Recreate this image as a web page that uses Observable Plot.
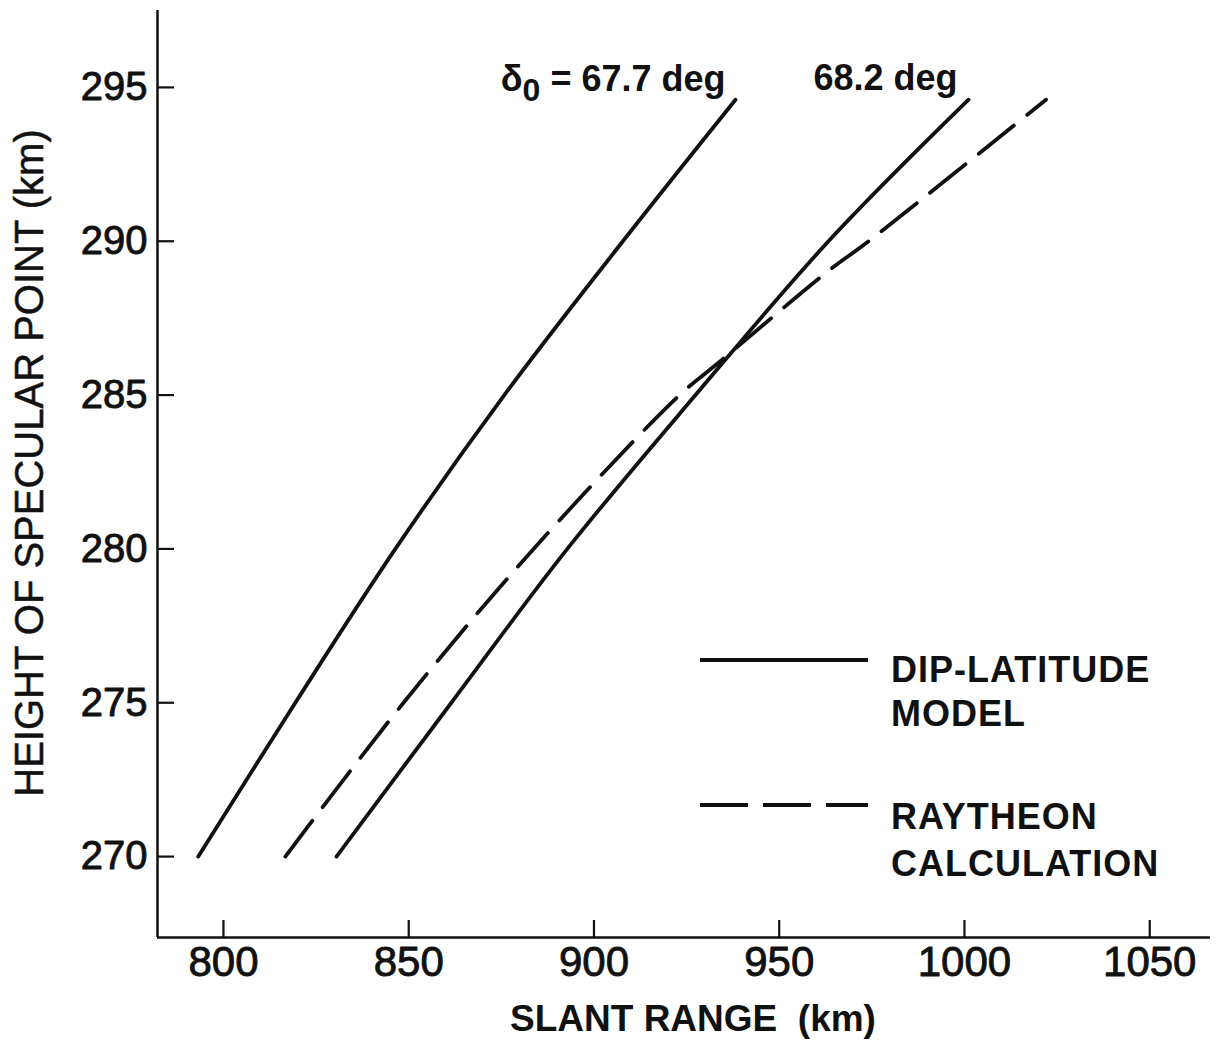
<!DOCTYPE html>
<html><head><meta charset="utf-8">
<script src="https://cdn.jsdelivr.net/npm/d3@7"></script>
<script src="https://cdn.jsdelivr.net/npm/@observablehq/plot@0.6"></script>
<style>
html,body{margin:0;padding:0;background:#fff;}
#chart{position:relative;width:1218px;height:1041px;}
#legend{position:absolute;left:0;top:0;pointer-events:none;}
</style></head><body><div id="chart"></div>
<script>
// Tick values
const xTicks = [800, 850, 900, 950, 1000, 1050];
const yTicks = [270, 275, 280, 285, 290, 295];

// Dip-latitude model, delta0 = 67.7 deg (solid)
const heightsA = [270, 275, 280, 285, 290, 294.6];
const rangeA   = [793.2, 819.4, 846.4, 875.8, 907.8, 938.2];

// Dip-latitude model, delta0 = 68.2 deg (solid)
const heightsC = [270, 275, 280, 285, 290, 294.6];
const rangeC   = [830.5, 861.5, 892.8, 927.4, 963.3, 1001.1];

// Raytheon calculation (dashed)
const heightsB = [270, 275, 280, 285, 286, 289, 290, 294.6];
const rangeB   = [816.7, 848.6, 883.7, 923.1, 933.1, 962.9, 974.1, 1022];

const labelA = ["δ", "0", " = 67.7 deg"];
const labelC = "68.2 deg";
const legendLabels = [["DIP-LATITUDE", "MODEL"], ["RAYTHEON", "CALCULATION"]];
const xTitle = "SLANT RANGE  (km)";
const yTitle = "HEIGHT OF SPECULAR POINT (km)";

const xDomain = [782.2, 1066.4];
const yDomain = [267.37, 297.5];

const rows = (hs, rs) => hs.map((h, i) => ({height: h, range: rs[i]}));
const dataA = rows(heightsA, rangeA);
const dataC = rows(heightsC, rangeC);
const dataB = rows(heightsB, rangeB);

const font = "'Liberation Sans', Arial, Helvetica, sans-serif";
const ink = "#111";

const chart = Plot.plot({
  width: 1218, height: 1041,
  marginLeft: 157, marginRight: 8, marginTop: 10, marginBottom: 104,
  x: {domain: xDomain},
  y: {domain: yDomain},
  style: {fontFamily: font, color: ink, background: "#fff", overflow: "visible"},
  marks: [
    Plot.ruleX([xDomain[0]], {strokeWidth: 2.5, stroke: ink}),
    Plot.ruleY([yDomain[0]], {strokeWidth: 2.5, stroke: ink}),
    Plot.axisX(xTicks, {anchor: "bottom", tickSize: 17, insetBottom: 17, fill: "none", label: null, strokeWidth: 2.2}),
    Plot.axisX(xTicks, {anchor: "bottom", tickSize: 0, tickPadding: 9, fontSize: 42, label: null, tickFormat: d => String(d), textStroke: ink, textStrokeWidth: 0.9}),
    Plot.axisY(yTicks, {anchor: "left", tickSize: 17, insetLeft: 17, fill: "none", label: null, strokeWidth: 2.2}),
    Plot.axisY(yTicks, {anchor: "left", tickSize: 0, tickPadding: 10, fontSize: 40, label: null, tickFormat: d => String(d), textStroke: ink, textStrokeWidth: 0.9}),
    Plot.line(dataA, {x: "range", y: "height", curve: "catmull-rom", stroke: ink, strokeWidth: 3.8, strokeLinecap: "round"}),
    Plot.line(dataC, {x: "range", y: "height", curve: "catmull-rom", stroke: ink, strokeWidth: 3.8, strokeLinecap: "round"}),
    Plot.line(dataB, {x: "range", y: "height", curve: "catmull-rom", stroke: ink, strokeWidth: 3.8, strokeLinecap: "round", strokeDasharray: "45,17"}),
    Plot.text([dataA[dataA.length - 1]], {x: "range", y: "height", text: () => labelA.join(""), textAnchor: "end", lineAnchor: "bottom", dx: -10, dy: -9, fontSize: 36, fontWeight: "bold"}),
    Plot.text([dataC[dataC.length - 1]], {x: "range", y: "height", text: () => labelC, textAnchor: "end", lineAnchor: "bottom", dx: -11, dy: -10, fontSize: 36, fontWeight: "bold"}),
    Plot.text([yTitle], {text: d => d, frameAnchor: "left", textAnchor: "middle", rotate: -90, dx: -115, dy: -11, lineAnchor: "bottom", fontSize: 40, fill: ink, stroke: ink, strokeWidth: 0.5}),
    Plot.text([xTitle], {text: d => d, frameAnchor: "bottom", textAnchor: "middle", dx: 9, dy: 93, lineAnchor: "bottom", fontSize: 37, fontWeight: "bold"})
  ]
});
const root = document.getElementById("chart");
root.appendChild(chart);

// Give the delta label a true subscript 0
const ns = "http://www.w3.org/2000/svg";
chart.querySelectorAll("text").forEach(t => {
  if (t.textContent === labelA.join("")) {
    t.textContent = "";
    const parts = [
      {s: labelA[0], dy: 0, fs: null},
      {s: labelA[1], dy: 10, fs: 32},
      {s: labelA[2], dy: -10, fs: null}
    ];
    parts.forEach(p => {
      const sp = document.createElementNS(ns, "tspan");
      if (p.dy) sp.setAttribute("dy", p.dy);
      if (p.fs) sp.setAttribute("font-size", p.fs);
      sp.textContent = p.s;
      t.appendChild(sp);
    });
  }
});

// Legend overlay
const lg = document.createElementNS(ns, "svg");
lg.setAttribute("id", "legend");
lg.setAttribute("width", 1218);
lg.setAttribute("height", 1041);
const entries = [
  {y: 660, dash: null, baselines: [682, 726]},
  {y: 805, dash: "48,15", baselines: [829, 876]}
];
entries.forEach((e, i) => {
  const ln = document.createElementNS(ns, "line");
  ln.setAttribute("x1", 700); ln.setAttribute("x2", 868);
  ln.setAttribute("y1", e.y); ln.setAttribute("y2", e.y);
  ln.setAttribute("stroke", ink); ln.setAttribute("stroke-width", 4.2);
  if (e.dash) ln.setAttribute("stroke-dasharray", e.dash);
  lg.appendChild(ln);
  legendLabels[i].forEach((t, j) => {
    const tx = document.createElementNS(ns, "text");
    tx.setAttribute("x", 891); tx.setAttribute("y", e.baselines[j]);
    tx.setAttribute("font-family", font);
    tx.setAttribute("font-size", 36);
    tx.setAttribute("font-weight", "bold");
    tx.setAttribute("letter-spacing", "1");
    tx.setAttribute("fill", ink);
    tx.textContent = t;
    lg.appendChild(tx);
  });
});
root.appendChild(lg);
</script>
</body></html>
